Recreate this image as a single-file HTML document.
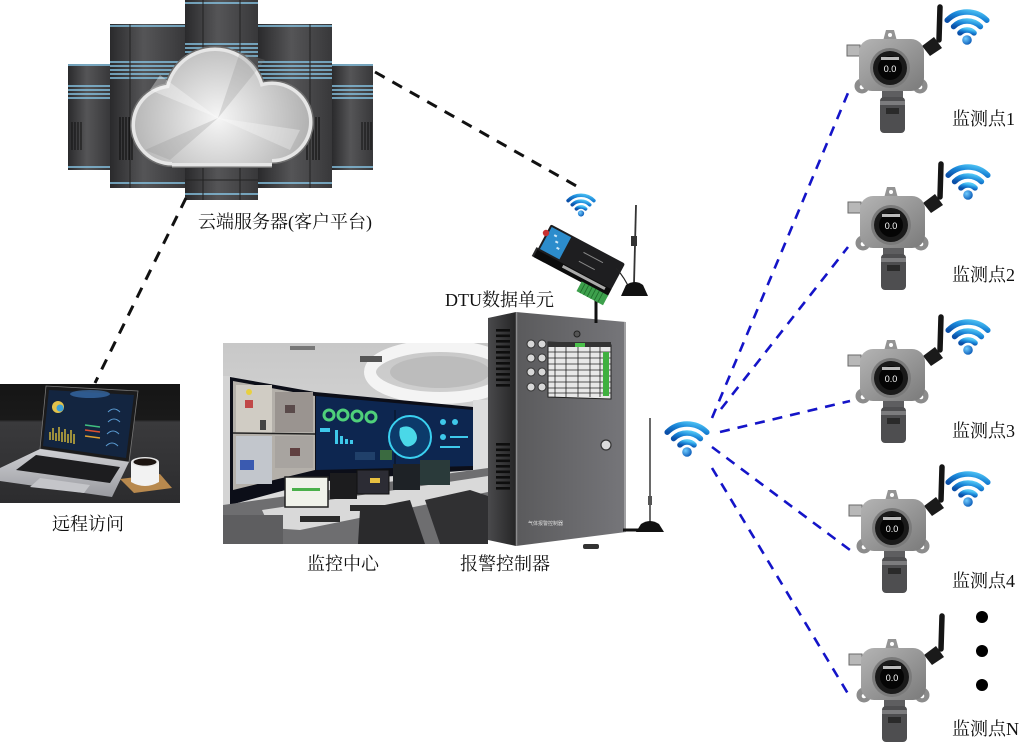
<!DOCTYPE html>
<html><head><meta charset="utf-8">
<style>
html,body{margin:0;padding:0;background:#fff;}
svg{display:block;}
.lbl{font-family:"Liberation Serif","Noto Serif CJK SC","Noto Sans CJK SC",serif;font-size:18px;fill:#111;}
</style></head><body>
<svg width="1019" height="744" viewBox="0 0 1019 744" xmlns="http://www.w3.org/2000/svg" xmlns:xlink="http://www.w3.org/1999/xlink">
<defs>
 <linearGradient id="wg" x1="0" y1="1" x2="1" y2="0">
  <stop offset="0" stop-color="#0a4fa8"/><stop offset="0.5" stop-color="#1a86d8"/><stop offset="1" stop-color="#52c8f6"/>
 </linearGradient>
 <radialGradient id="wd" cx="0.35" cy="0.35" r="0.7">
  <stop offset="0" stop-color="#70ccff"/><stop offset="1" stop-color="#0b5cb8"/>
 </radialGradient>
 <symbol id="wifi" viewBox="-3 3 46 40" overflow="visible">
  <g fill="none" stroke="url(#wg)" stroke-width="5.5" stroke-linecap="round">
   <path d="M 0.2 16.2 A 28 28 0 0 1 39.8 16.2"/>
   <path d="M 6.57 22.57 A 19 19 0 0 1 33.43 22.57"/>
   <path d="M 12.93 28.93 A 10 10 0 0 1 27.07 28.93"/>
  </g>
  <circle cx="20" cy="36" r="4.8" fill="url(#wd)"/>
 </symbol>
 <linearGradient id="tw" x1="0" x2="1" y1="0" y2="0">
  <stop offset="0" stop-color="#2a2a2c"/><stop offset="0.45" stop-color="#555557"/><stop offset="1" stop-color="#38383a"/>
 </linearGradient>
 <radialGradient id="cloudg" gradientUnits="userSpaceOnUse" cx="218" cy="118" r="105">
  <stop offset="0" stop-color="#f6f6f6"/><stop offset="0.45" stop-color="#d2d2d2"/><stop offset="1" stop-color="#a8a8a8"/>
 </radialGradient>
 <linearGradient id="sbody" x1="0" y1="0" x2="1" y2="1">
  <stop offset="0" stop-color="#b4b4b4"/><stop offset="1" stop-color="#7a7a7a"/>
 </linearGradient>
 <linearGradient id="cabf" x1="0" x2="1">
  <stop offset="0" stop-color="#5a5a5c"/><stop offset="1" stop-color="#76767a"/>
 </linearGradient>
 <linearGradient id="cabs" x1="0" x2="1">
  <stop offset="0" stop-color="#4a4a4c"/><stop offset="1" stop-color="#252526"/>
 </linearGradient>
 <linearGradient id="ceil" x1="0" y1="0" x2="0" y2="1">
  <stop offset="0" stop-color="#c8c8c8"/><stop offset="1" stop-color="#e2e2e2"/>
 </linearGradient>
 <linearGradient id="desk" x1="0" y1="0" x2="0" y2="1">
  <stop offset="0" stop-color="#151515"/><stop offset="0.3" stop-color="#1a1a1a"/><stop offset="0.32" stop-color="#3a3a3c"/><stop offset="1" stop-color="#2c2c2e"/>
 </linearGradient>
 <linearGradient id="silver" x1="0" y1="0" x2="0" y2="1">
  <stop offset="0" stop-color="#cfd0d4"/><stop offset="1" stop-color="#9a9ba0"/>
 </linearGradient>
 <clipPath id="cpMon"><rect x="223" y="343" width="265" height="201"/></clipPath>
 <clipPath id="cpLap"><rect x="0" y="384" width="180" height="119"/></clipPath>

 <g id="sensor">
  <path d="M49,-28 L50,-61" stroke="#151515" stroke-width="5.5" stroke-linecap="round"/>
  <polygon points="32,-22 44,-31 52,-20 40,-12" fill="#1a1a1a"/>
  <rect x="-43" y="-23" width="13" height="11" fill="#b8b8b8" stroke="#6a6a6a" stroke-width="1"/>
  <circle cx="-28" cy="18" r="7.5" fill="#8c8c8c"/><circle cx="-28" cy="19" r="2.3" fill="#fff"/>
  <circle cx="30" cy="18" r="7.5" fill="#8c8c8c"/><circle cx="30" cy="19" r="2.3" fill="#fff"/>
  <path d="M-7,-27 L-4,-38 L4,-38 L7,-27Z" fill="#949494"/>
  <circle cx="0" cy="-33" r="2" fill="#fff"/>
  <rect x="-31" y="-29" width="65" height="52" rx="13" fill="url(#sbody)"/>
  <circle r="20" fill="#7a7a7a"/><circle r="17" fill="#1a1a1a"/><circle r="12" fill="#050505"/>
  <rect x="-9" y="-11" width="18" height="3" fill="#bbb"/>
  <text x="0" y="4" font-family="Liberation Sans, sans-serif" font-size="9" fill="#fff" text-anchor="middle">0.0</text>
  <rect x="-8" y="23" width="21" height="7" fill="#5e5e60"/>
  <rect x="-10" y="29" width="25" height="36" rx="4" fill="#4e4e50"/>
  <rect x="-10" y="33" width="25" height="4" fill="#7c7c7e"/>
  <rect x="-4" y="40" width="13" height="6" fill="#2a2a2a"/>
 </g>
</defs>

<!-- ===== server towers ===== -->
<g>
 <rect x="68" y="64" width="42" height="106" fill="url(#tw)"/>
 <g stroke="#86c4e4" stroke-width="1.4">
  <line x1="68" y1="65" x2="110" y2="65"/>
  <line x1="68" y1="86" x2="110" y2="86"/><line x1="68" y1="90" x2="110" y2="90"/>
  <line x1="68" y1="94" x2="110" y2="94"/><line x1="68" y1="98" x2="110" y2="98"/>
  <line x1="68" y1="167" x2="110" y2="167"/>
 </g>
 <g stroke="#111" stroke-width="1"><line x1="72" y1="122" x2="72" y2="150"/><line x1="75" y1="122" x2="75" y2="150"/><line x1="78" y1="122" x2="78" y2="150"/><line x1="81" y1="122" x2="81" y2="150"/></g>
 <rect x="332" y="64" width="41" height="106" fill="url(#tw)"/>
 <g stroke="#86c4e4" stroke-width="1.4">
  <line x1="332" y1="65" x2="373" y2="65"/>
  <line x1="332" y1="86" x2="373" y2="86"/><line x1="332" y1="90" x2="373" y2="90"/>
  <line x1="332" y1="94" x2="373" y2="94"/><line x1="332" y1="98" x2="373" y2="98"/>
  <line x1="332" y1="167" x2="373" y2="167"/>
 </g>
 <g stroke="#111" stroke-width="1"><line x1="362" y1="122" x2="362" y2="150"/><line x1="365" y1="122" x2="365" y2="150"/><line x1="368" y1="122" x2="368" y2="150"/><line x1="371" y1="122" x2="371" y2="150"/></g>
 <rect x="110" y="24" width="75" height="164" fill="url(#tw)"/>
 <g stroke="#86c4e4" stroke-width="1.5">
  <line x1="110" y1="26" x2="185" y2="26"/>
  <line x1="110" y1="62" x2="185" y2="62"/><line x1="110" y1="66" x2="185" y2="66"/>
  <line x1="110" y1="70" x2="185" y2="70"/><line x1="110" y1="74" x2="185" y2="74"/><line x1="110" y1="78" x2="185" y2="78"/>
  <line x1="110" y1="183" x2="185" y2="183"/>
 </g>
 <g stroke="#0e0e0e" stroke-width="1.1"><line x1="120" y1="117" x2="120" y2="160"/><line x1="123" y1="117" x2="123" y2="160"/><line x1="126" y1="117" x2="126" y2="160"/><line x1="129" y1="117" x2="129" y2="160"/><line x1="132" y1="117" x2="132" y2="160"/></g>
 <rect x="258" y="24" width="74" height="164" fill="url(#tw)"/>
 <g stroke="#86c4e4" stroke-width="1.5">
  <line x1="258" y1="26" x2="332" y2="26"/>
  <line x1="258" y1="62" x2="332" y2="62"/><line x1="258" y1="66" x2="332" y2="66"/>
  <line x1="258" y1="70" x2="332" y2="70"/><line x1="258" y1="74" x2="332" y2="74"/><line x1="258" y1="78" x2="332" y2="78"/>
  <line x1="258" y1="183" x2="332" y2="183"/>
 </g>
 <g stroke="#0e0e0e" stroke-width="1.1"><line x1="307" y1="117" x2="307" y2="160"/><line x1="310" y1="117" x2="310" y2="160"/><line x1="313" y1="117" x2="313" y2="160"/><line x1="316" y1="117" x2="316" y2="160"/><line x1="319" y1="117" x2="319" y2="160"/></g>
 <rect x="185" y="0" width="73" height="200" fill="url(#tw)"/>
 <g stroke="#86c4e4" stroke-width="1.5">
  <line x1="185" y1="3" x2="258" y2="3"/>
  <line x1="185" y1="44" x2="258" y2="44"/><line x1="185" y1="48" x2="258" y2="48"/>
  <line x1="185" y1="52" x2="258" y2="52"/><line x1="185" y1="56" x2="258" y2="56"/>
  <line x1="185" y1="194" x2="258" y2="194"/>
 </g>
 <line x1="185" y1="180" x2="258" y2="180" stroke="#222" stroke-width="1"/>
 <g stroke="#222" stroke-width="1"><line x1="203" y1="0" x2="203" y2="200"/><line x1="240" y1="0" x2="240" y2="200"/><line x1="130" y1="24" x2="130" y2="188"/><line x1="310" y1="24" x2="310" y2="188"/></g>
</g>
<!-- cloud -->
<g fill="#6e6e6e">
 <circle cx="172" cy="125" r="42"/><circle cx="215" cy="98" r="52"/><circle cx="272" cy="122" r="42"/>
 <rect x="172" y="110" width="100" height="58"/>
</g>
<g fill="#e6e6e6">
 <circle cx="172" cy="125" r="40.5"/><circle cx="215" cy="98" r="50.5"/><circle cx="272" cy="122" r="40.5"/>
 <rect x="172" y="110" width="100" height="56.5"/>
</g>
<g fill="url(#cloudg)">
 <circle cx="172" cy="125" r="37"/><circle cx="215" cy="98" r="47"/><circle cx="272" cy="122" r="37"/>
 <rect x="172" y="110" width="100" height="53"/>
</g>
<polygon points="218,118 150,90 160,75" fill="#ffffff" opacity="0.35"/>
<polygon points="218,118 290,150 300,130" fill="#ffffff" opacity="0.3"/>
<polygon points="218,118 240,52 265,60" fill="#8a8a8a" opacity="0.25"/>
<polygon points="218,118 170,160 145,150" fill="#8a8a8a" opacity="0.25"/>

<!-- ===== black dashed lines ===== -->
<g stroke="#111" stroke-width="3" stroke-dasharray="11 9" fill="none">
 <line x1="375" y1="72" x2="580" y2="188"/>
 <line x1="186" y1="198" x2="95" y2="383"/>
</g>

<!-- ===== laptop photo ===== -->
<g clip-path="url(#cpLap)">
 <rect x="0" y="384" width="180" height="119" fill="url(#desk)"/>
 <polygon points="46,386 138,391 129,462 40,449" fill="#1b1b1c" stroke="#777" stroke-width="0.8"/>
 <polygon points="49,390 134,395 126,458 43,446" fill="#132540"/>
 <ellipse cx="90" cy="394" rx="20" ry="4" fill="#3a70b0" opacity="0.7"/>
 <circle cx="58" cy="407" r="6" fill="#e2c24a"/>
 <circle cx="60" cy="408" r="3.5" fill="#3aa0d8"/>
 <g stroke="#e8c83a" stroke-width="1.3"><line x1="50" y1="440" x2="50" y2="432"/><line x1="53" y1="440" x2="53" y2="428"/><line x1="56" y1="441" x2="56" y2="433"/><line x1="59" y1="441" x2="59" y2="427"/><line x1="62" y1="442" x2="62" y2="432"/><line x1="65" y1="442" x2="65" y2="429"/><line x1="68" y1="443" x2="68" y2="434"/><line x1="71" y1="443" x2="71" y2="430"/><line x1="74" y1="444" x2="74" y2="434"/></g>
 <g stroke-width="1.5"><line x1="85" y1="430" x2="100" y2="432" stroke="#e05030"/><line x1="85" y1="436" x2="100" y2="438" stroke="#e0a030"/><line x1="85" y1="425" x2="100" y2="427" stroke="#40c080"/></g>
 <g stroke="#5a9ad0" stroke-width="1" fill="none"><path d="M108 412 q6 -6 12 0"/><path d="M108 422 q6 -6 12 0"/><path d="M107 434 q6 -6 12 0"/><path d="M106 446 q6 -6 12 0"/></g>
 <polygon points="40,449 129,462 112,497 0,481 0,468" fill="url(#silver)"/>
 <polygon points="36,455 120,467 110,483 16,470" fill="#1d1d1f"/>
 <polygon points="40,478 90,485 84,493 30,487" fill="#c4c5c9"/>
 <polygon points="120,479 160,474 172,488 134,493" fill="#b8894e"/>
 <path d="M131,462 L131,482 Q145,490 159,482 L159,462 Z" fill="#f2f2f2"/>
 <ellipse cx="145" cy="462" rx="14" ry="5" fill="#e8e8e8"/>
 <ellipse cx="145" cy="462" rx="11.5" ry="3.6" fill="#1c1410"/>
</g>

<!-- ===== monitoring center photo ===== -->
<g clip-path="url(#cpMon)">
 <rect x="223" y="343" width="265" height="201" fill="url(#ceil)"/>
 <ellipse cx="440" cy="372" rx="70" ry="26" fill="none" stroke="#f4f4f4" stroke-width="12"/>
 <ellipse cx="440" cy="372" rx="50" ry="16" fill="#bcbcbc"/>
 <rect x="360" y="356" width="22" height="6" fill="#555"/>
 <rect x="290" y="346" width="25" height="4" fill="#777"/>
 <rect x="223" y="376" width="10" height="140" fill="#d4d4d4"/>
 <rect x="473" y="400" width="15" height="90" fill="#dedede"/>
 <polygon points="230,377 315,392 473,407 473,470 315,482 230,505" fill="#0c0e18"/>
 <polygon points="233,381 315,396 315,470 233,490" fill="#b4b0aa"/>
 <rect x="236" y="385" width="36" height="48" fill="#d0ccc4"/>
 <rect x="275" y="392" width="38" height="40" fill="#9a9490"/>
 <rect x="236" y="436" width="36" height="48" fill="#c2c6cc"/>
 <rect x="275" y="436" width="38" height="32" fill="#a8a4a0"/>
 <rect x="245" y="400" width="8" height="8" fill="#c04848"/>
 <rect x="260" y="420" width="6" height="10" fill="#444"/>
 <rect x="285" y="405" width="10" height="8" fill="#5a4a4a"/>
 <rect x="240" y="460" width="14" height="10" fill="#3a5ab0"/>
 <rect x="290" y="448" width="10" height="8" fill="#604040"/>
 <circle cx="249" cy="392" r="3" fill="#e8d040"/>
 <line x1="233" y1="433" x2="315" y2="434" stroke="#222" stroke-width="1.5"/>
 <polygon points="316,396 473,410 473,466 316,470" fill="#0d2650"/>
 <g fill="none" stroke="#4fd07a" stroke-width="3"><circle cx="329" cy="415" r="5"/><circle cx="343" cy="415" r="5"/><circle cx="357" cy="416" r="5"/><circle cx="371" cy="417" r="5"/></g>
 <g fill="#3ec8ea"><rect x="335" y="430" width="3" height="14"/><rect x="340" y="436" width="3" height="8"/><rect x="345" y="439" width="3" height="5"/><rect x="350" y="440" width="3" height="4"/><rect x="320" y="428" width="10" height="4"/></g>
 <rect x="355" y="452" width="20" height="8" fill="#20406a"/>
 <rect x="380" y="450" width="12" height="10" fill="#3a6a40"/>
 <line x1="395" y1="410" x2="395" y2="468" stroke="#06101e" stroke-width="1"/>
 <circle cx="410" cy="437" r="21" fill="#0c3a6a" stroke="#3ad0f0" stroke-width="2"/>
 <path d="M400 428 q8 -4 14 2 q6 8 0 14 q-8 6 -12 -2 q-4 -6 -2 -14z" fill="#4ad8e8"/>
 <g fill="#3ec8ea"><circle cx="443" cy="422" r="3"/><circle cx="455" cy="422" r="3"/><circle cx="443" cy="437" r="3"/><rect x="450" y="436" width="18" height="2"/><rect x="440" y="446" width="20" height="2"/></g>
 <polygon points="223,505 488,468 488,544 223,544" fill="#6e6e70"/>
 <polygon points="262,510 488,476 488,492 300,530 270,528" fill="#d9d9d9"/>
 <rect x="285" y="477" width="43" height="30" fill="#f0f2ea" stroke="#222" stroke-width="1.5"/>
 <rect x="292" y="488" width="28" height="3" fill="#4ab04a"/>
 <rect x="330" y="473" width="27" height="26" fill="#1c1c1e"/>
 <rect x="357" y="470" width="32" height="24" fill="#2c2c34" stroke="#111" stroke-width="1"/>
 <rect x="370" y="478" width="10" height="5" fill="#e8c040"/>
 <rect x="393" y="464" width="27" height="26" fill="#1e2226"/>
 <rect x="420" y="460" width="30" height="25" fill="#2a3a3a"/>
 <rect x="300" y="516" width="40" height="6" fill="#2a2a2a"/>
 <rect x="350" y="505" width="40" height="6" fill="#2a2a2a"/>
 <polygon points="360,510 410,500 425,544 358,544" fill="#2a2a2c"/>
 <polygon points="425,500 470,490 488,496 488,544 440,544" fill="#303032"/>
 <rect x="223" y="515" width="60" height="29" fill="#5e5e60"/>
</g>

<!-- ===== alarm controller cabinet ===== -->
<polygon points="488,318 516,312 516,546 488,540" fill="url(#cabs)"/>
<g fill="#0e0e0e">
 <rect x="496" y="329" width="14" height="2.6"/><rect x="496" y="334.5" width="14" height="2.6"/><rect x="496" y="340" width="14" height="2.6"/><rect x="496" y="345.5" width="14" height="2.6"/><rect x="496" y="351" width="14" height="2.6"/><rect x="496" y="356.5" width="14" height="2.6"/><rect x="496" y="362" width="14" height="2.6"/><rect x="496" y="367.5" width="14" height="2.6"/><rect x="496" y="373" width="14" height="2.6"/><rect x="496" y="378.5" width="14" height="2.6"/><rect x="496" y="384" width="14" height="2.6"/>
 <rect x="496" y="443" width="14" height="2.6"/><rect x="496" y="448.5" width="14" height="2.6"/><rect x="496" y="454" width="14" height="2.6"/><rect x="496" y="459.5" width="14" height="2.6"/><rect x="496" y="465" width="14" height="2.6"/><rect x="496" y="470.5" width="14" height="2.6"/><rect x="496" y="476" width="14" height="2.6"/><rect x="496" y="481.5" width="14" height="2.6"/><rect x="496" y="487" width="14" height="2.6"/>
</g>
<polygon points="516,312 626,322 626,532 516,546" fill="url(#cabf)"/>
<line x1="516.5" y1="312" x2="516.5" y2="546" stroke="#8c8c8e" stroke-width="1.5"/>
<line x1="625" y1="322" x2="625" y2="532" stroke="#a0a0a2" stroke-width="2"/>
<circle cx="577" cy="334" r="3" fill="#555" stroke="#222" stroke-width="1"/>
<g fill="#d8d8d8" stroke="#333" stroke-width="1">
 <circle cx="531" cy="344" r="4"/><circle cx="542" cy="344" r="4"/>
 <circle cx="531" cy="358" r="4"/><circle cx="542" cy="358" r="4"/>
 <circle cx="531" cy="372" r="4"/><circle cx="542" cy="372" r="4"/>
 <circle cx="531" cy="387" r="4"/><circle cx="542" cy="387" r="4"/>
</g>
<polygon points="548,342 611,345 611,399 548,397" fill="#e8e8e8" stroke="#222" stroke-width="1"/>
<rect x="548" y="342" width="63" height="5" fill="#333"/>
<rect x="575" y="343" width="10" height="4" fill="#4ac04a"/>
<g stroke="#222" stroke-width="0.8">
 <line x1="548" y1="352" x2="611" y2="352"/><line x1="548" y1="358" x2="611" y2="358"/><line x1="548" y1="364" x2="611" y2="364"/><line x1="548" y1="370" x2="611" y2="370"/><line x1="548" y1="376" x2="611" y2="376"/><line x1="548" y1="382" x2="611" y2="382"/><line x1="548" y1="388" x2="611" y2="388"/><line x1="548" y1="393" x2="611" y2="393"/>
 <line x1="555" y1="347" x2="555" y2="397"/><line x1="566" y1="347" x2="566" y2="397"/><line x1="578" y1="347" x2="578" y2="397"/><line x1="590" y1="347" x2="590" y2="397"/><line x1="600" y1="347" x2="600" y2="397"/>
</g>
<rect x="603" y="352" width="6" height="44" fill="#3fb040"/>
<circle cx="606" cy="445" r="5" fill="#dcdcdc" stroke="#333" stroke-width="1.2"/>
<text x="528" y="525" font-family="Liberation Sans, Noto Sans CJK SC, sans-serif" font-size="5" fill="#ddd">气体报警控制器</text>
<rect x="583" y="544" width="16" height="5" rx="2" fill="#333"/>

<!-- cabinet antenna -->
<line x1="623" y1="530" x2="642" y2="530" stroke="#111" stroke-width="3"/>
<line x1="650" y1="418" x2="650" y2="523" stroke="#444" stroke-width="1.6"/>
<rect x="648" y="496" width="4" height="9" fill="#555"/>
<path d="M641,524 Q650,518 659,524 L664,532 L636,532 Z" fill="#111"/>

<!-- ===== DTU ===== -->
<line x1="596" y1="294" x2="596" y2="323" stroke="#111" stroke-width="3"/>
<g transform="translate(580,259) rotate(28)">
 <rect x="-44" y="10" width="14" height="10" fill="#2a2a2a"/>
 <rect x="-42" y="11" width="84" height="9" fill="#0c0c0c"/>
 <rect x="-42" y="-17" width="84" height="29" rx="2" fill="#1e1e20"/>
 <rect x="-40" y="-15" width="22" height="25" fill="#2c8ccc"/>
 <g fill="#d0e8f8"><rect x="-34" y="-10" width="3" height="2"/><rect x="-30" y="-5" width="3" height="2"/><rect x="-26" y="0" width="3" height="2"/></g>
 <rect x="0" y="-8" width="22" height="1" fill="#888"/><rect x="0" y="2" width="18" height="1" fill="#888"/>
 <rect x="-12" y="13" width="48" height="3" fill="#aaa"/>
 <rect x="12" y="19" width="30" height="11" fill="#3da04c"/>
 <g stroke="#1e6a2a" stroke-width="0.8"><line x1="16" y1="19" x2="16" y2="30"/><line x1="20" y1="19" x2="20" y2="30"/><line x1="24" y1="19" x2="24" y2="30"/><line x1="28" y1="19" x2="28" y2="30"/><line x1="32" y1="19" x2="32" y2="30"/><line x1="36" y1="19" x2="36" y2="30"/></g>
</g>
<circle cx="546" cy="233" r="3.2" fill="#c83030"/>
<path d="M616,268 Q625,278 630,290" stroke="#222" stroke-width="1.2" fill="none"/>
<line x1="636" y1="205" x2="634" y2="284" stroke="#333" stroke-width="1.8"/>
<rect x="631" y="236" width="6" height="10" fill="#333"/>
<path d="M626,285 Q635,279 643,285 L648,296 L621,296 Z" fill="#111"/>

<!-- ===== blue dashed lines ===== -->
<g stroke="#1414c8" stroke-width="2.6" stroke-dasharray="10 8" fill="none">
 <line x1="712" y1="418" x2="848" y2="93"/>
 <line x1="721" y1="409" x2="848" y2="247"/>
 <line x1="720" y1="432" x2="850" y2="401"/>
 <line x1="712" y1="447" x2="850" y2="550"/>
 <line x1="712" y1="468" x2="850" y2="697"/>
</g>

<!-- ===== wifi icons ===== -->
<use xlink:href="#wifi" href="#wifi" x="664" y="419" width="46" height="40"/>
<use xlink:href="#wifi" href="#wifi" x="566" y="192" width="30" height="26"/>
<use xlink:href="#wifi" href="#wifi" x="944" y="7" width="46" height="40"/>
<use xlink:href="#wifi" href="#wifi" x="945" y="162" width="46" height="40"/>
<use xlink:href="#wifi" href="#wifi" x="945" y="317" width="46" height="40"/>
<use xlink:href="#wifi" href="#wifi" x="945" y="469" width="46" height="40"/>

<!-- ===== sensors ===== -->
<use xlink:href="#sensor" href="#sensor" x="890" y="68"/>
<use xlink:href="#sensor" href="#sensor" x="891" y="225"/>
<use xlink:href="#sensor" href="#sensor" x="891" y="378"/>
<use xlink:href="#sensor" href="#sensor" x="892" y="528"/>
<use xlink:href="#sensor" href="#sensor" x="892" y="677"/>

<circle cx="982" cy="617" r="6" fill="#000"/>
<circle cx="982" cy="651" r="6" fill="#000"/>
<circle cx="982" cy="685" r="6" fill="#000"/>

<!-- ===== labels ===== -->
<text class="lbl" x="198" y="228">云端服务器(客户平台)</text>
<text class="lbl" x="445" y="306">DTU数据单元</text>
<text class="lbl" x="52" y="530">远程访问</text>
<text class="lbl" x="307" y="570">监控中心</text>
<text class="lbl" x="460" y="570">报警控制器</text>
<text class="lbl" x="952" y="125">监测点1</text>
<text class="lbl" x="952" y="281">监测点2</text>
<text class="lbl" x="952" y="437">监测点3</text>
<text class="lbl" x="952" y="587">监测点4</text>
<text class="lbl" x="952" y="735">监测点N</text>
</svg>
</body></html>
